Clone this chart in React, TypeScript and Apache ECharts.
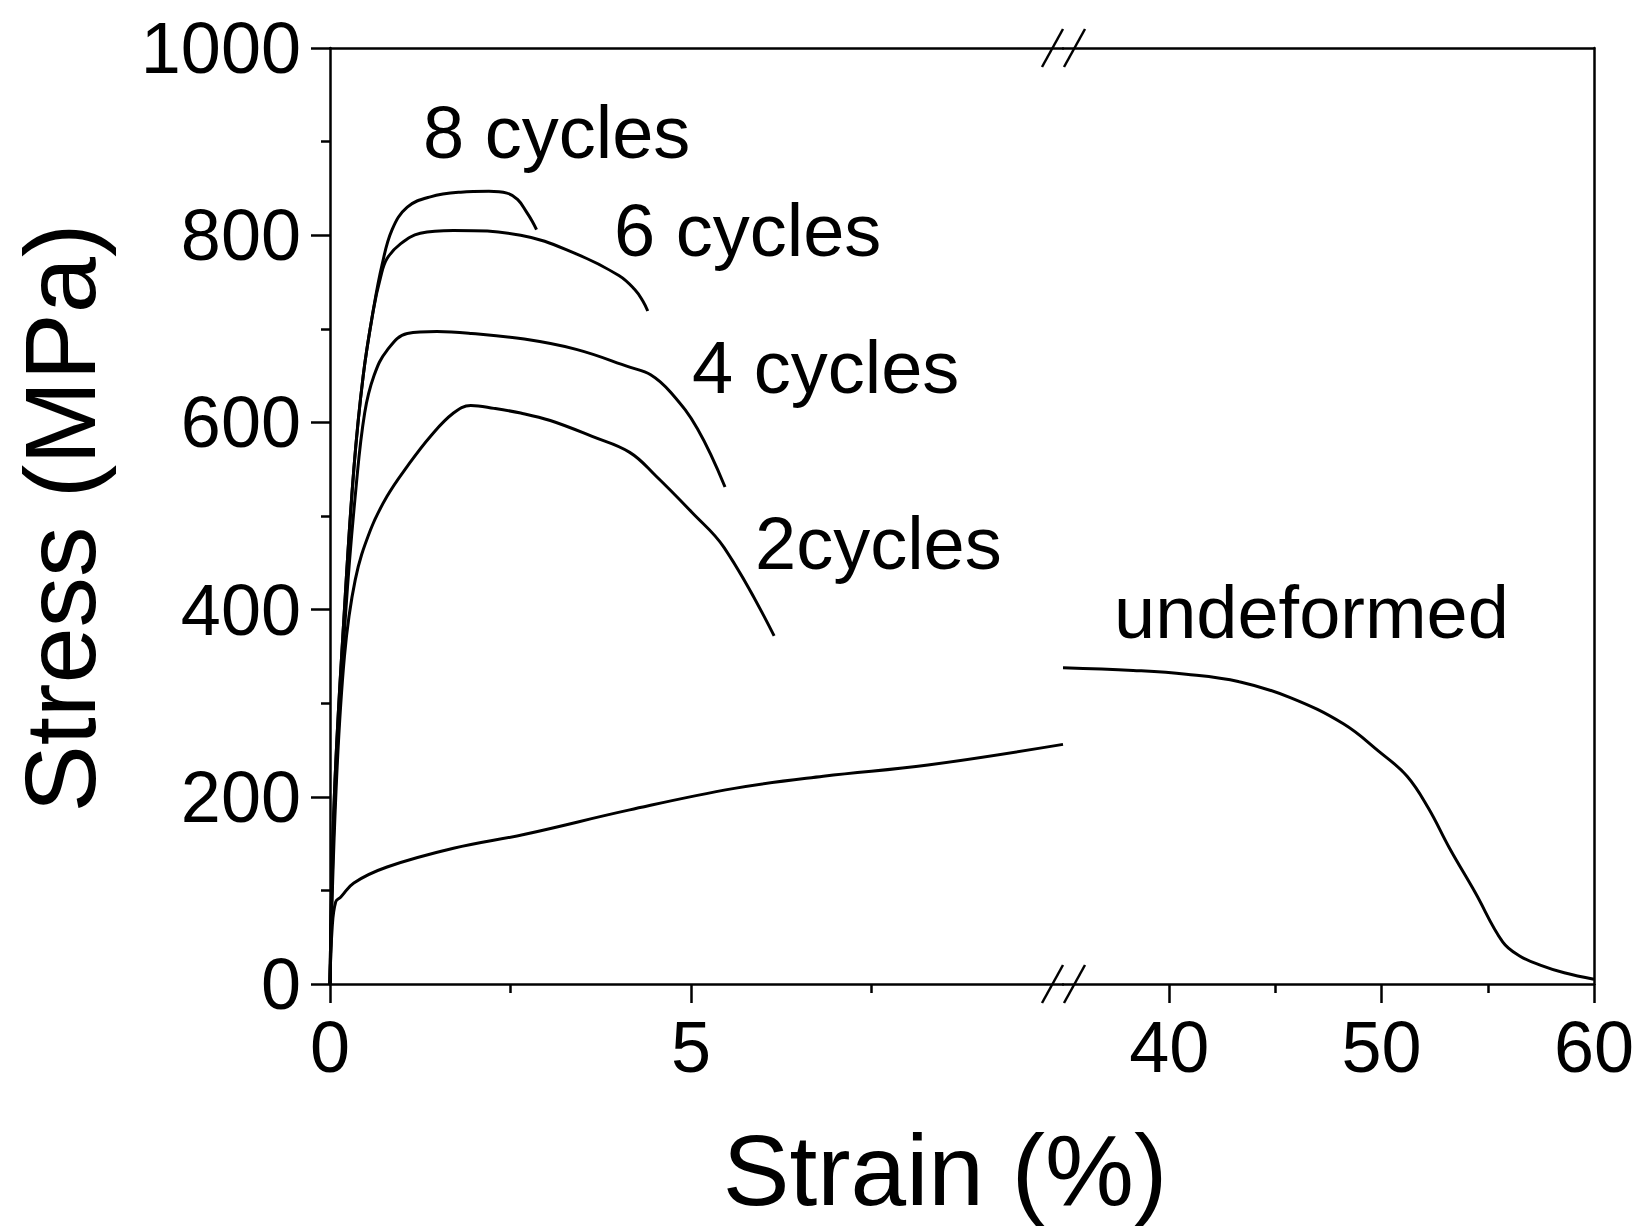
import { useEffect, useRef } from 'react';
import * as echarts from 'echarts';

const FONT = "'Liberation Sans', Arial, Helvetica, sans-serif";

// Tick values
const yTickValues = [0, 200, 400, 600, 800, 1000];
const leftXLabels = [0, 5];
const leftXMinor = [2.5, 7.5];
const rightXLabels = [40, 50, 60];
const rightXMinor = [45, 55];

// Axis ranges (broken x axis)
const leftRange = [0, 10.15];
const rightRange = [35, 60];

// Curves: [strain %, stress MPa]
const cycles8 = [
  [0, 0], [0.06, 200], [0.2, 400], [0.33, 550], [0.46, 650], [0.6, 720], [0.72, 768],
  [0.86, 806], [1.07, 830], [1.39, 841], [1.81, 846], [2.2, 847], [2.45, 845],
  [2.6, 838], [2.72, 825], [2.8, 815], [2.86, 806],
];
const cycles6 = [
  [0, 0], [0.06, 200], [0.2, 400], [0.33, 550], [0.46, 650], [0.6, 720], [0.7, 755],
  [0.79, 775], [0.98, 791], [1.25, 802], [1.71, 805], [2.64, 800], [3.41, 780],
  [4.0, 757], [4.22, 742], [4.33, 730], [4.4, 719],
];
const cycles4 = [
  [0, 0], [0.07, 200], [0.22, 400], [0.36, 530], [0.48, 610], [0.61, 650], [0.79, 677],
  [1.07, 695], [1.48, 697], [1.96, 695], [2.69, 689], [3.41, 678], [4.15, 659],
  [4.44, 651], [4.72, 632], [5.09, 593], [5.47, 531],
];
const cycles2 = [
  [0, 0], [0.08, 200], [0.2, 350], [0.35, 432], [0.56, 485], [0.79, 521], [1.07, 553],
  [1.39, 585], [1.71, 610], [1.95, 618], [2.27, 615], [2.64, 610], [3.05, 602],
  [3.63, 585], [4.15, 568], [4.51, 543], [5.01, 504], [5.46, 466], [6.15, 372],
];
const undeformedLeft = [
  [0, 0], [0.03, 60], [0.08, 88], [0.15, 93], [0.33, 108], [0.79, 125], [1.71, 145],
  [2.7, 160], [4.15, 186], [5.6, 209], [6.83, 222], [8.28, 234], [10.15, 256],
];
const undeformedRight = [
  [35, 338], [38.3, 335], [40.8, 331], [43.3, 323], [45.7, 306], [48.2, 278],
  [49.9, 248], [51.2, 222], [52.2, 188], [53.2, 145], [54.4, 98], [55.7, 45],
  [56.5, 30], [57.5, 20], [58.6, 12], [60, 5],
];

const curveLabels = ['8 cycles', '6 cycles', '4 cycles', '2cycles', 'undeformed'];

const BLACK = '#000';
const AXW = 2.5;

function axisLineOnly(extra: any) {
  return {
    type: 'value',
    axisLine: { show: true, onZero: false, lineStyle: { color: BLACK, width: AXW } },
    axisTick: { show: false },
    axisLabel: { show: false },
    splitLine: { show: false },
    ...extra,
  };
}

function tickAxis(extra: any, values: number[], len: number, labels: boolean) {
  return {
    type: 'value',
    position: 'bottom',
    axisLine: { show: labels, onZero: false, lineStyle: { color: BLACK, width: AXW } },
    axisTick: {
      show: true,
      inside: false,
      length: len,
      customValues: values,
      lineStyle: { color: BLACK, width: AXW },
    },
    axisLabel: labels
      ? {
          show: true,
          customValues: values,
          fontSize: 72,
          fontFamily: FONT,
          color: BLACK,
          margin: 27,
          formatter: (v: number) => String(v),
        }
      : { show: false },
    splitLine: { show: false },
    ...extra,
  };
}

function lineSeries(data: number[][], xi: number, yi: number) {
  return {
    type: 'line',
    data,
    xAxisIndex: xi,
    yAxisIndex: yi,
    showSymbol: false,
    symbol: 'none',
    smooth: 0.4,
    lineStyle: { color: BLACK, width: 3 },
    silent: true,
  };
}

export default function App() {
  const ref = useRef<HTMLDivElement>(null);
  useEffect(() => {
    if (!ref.current) return;
    const chart = echarts.init(ref.current, null, { renderer: 'svg' });
    const GT = 48;
    const GB = 984;
    const X0 = 330;
    const XB = 1063;
    const XR = 1594;
    const slash = (x1: number, y1: number, x2: number, y2: number) => ({
      type: 'line',
      shape: { x1, y1, x2, y2 },
      style: { stroke: BLACK, lineWidth: AXW },
      silent: true,
    });
    const label = (text: string, x: number, y: number) => ({
      type: 'text',
      x,
      y,
      style: {
        text,
        fontSize: 74,
        fontFamily: FONT,
        fill: BLACK,
        textAlign: 'left',
        textVerticalAlign: 'middle',
      },
      silent: true,
    });
    chart.setOption({
      animation: false,
      backgroundColor: '#fff',
      grid: [
        { left: X0, top: GT, width: XB - X0, height: GB - GT },
        { left: XB, top: GT, width: XR - XB, height: GB - GT },
      ],
      xAxis: [
        tickAxis({ gridIndex: 0, min: leftRange[0], max: leftRange[1] }, leftXLabels, 19, true),
        tickAxis({ gridIndex: 0, min: leftRange[0], max: leftRange[1] }, leftXMinor, 9, false),
        axisLineOnly({ gridIndex: 0, position: 'top', min: leftRange[0], max: leftRange[1] }),
        tickAxis({ gridIndex: 1, min: rightRange[0], max: rightRange[1] }, rightXLabels, 19, true),
        tickAxis({ gridIndex: 1, min: rightRange[0], max: rightRange[1] }, rightXMinor, 9, false),
        axisLineOnly({ gridIndex: 1, position: 'top', min: rightRange[0], max: rightRange[1] }),
      ],
      yAxis: [
        {
          type: 'value',
          gridIndex: 0,
          position: 'left',
          min: yTickValues[0],
          max: yTickValues[yTickValues.length - 1],
          interval: 200,
          axisLine: { show: true, onZero: false, lineStyle: { color: BLACK, width: AXW } },
          axisTick: { show: true, inside: false, length: 19, lineStyle: { color: BLACK, width: AXW } },
          minorTick: { show: true, splitNumber: 2, length: 9, lineStyle: { color: BLACK, width: AXW } },
          axisLabel: {
            fontSize: 72,
            fontFamily: FONT,
            color: BLACK,
            margin: 29,
            padding: [0, 0, 14, 0],
            formatter: (v: number) => String(v),
          },
          splitLine: { show: false },
          minorSplitLine: { show: false },
        },
        axisLineOnly({
          gridIndex: 1,
          position: 'right',
          min: yTickValues[0],
          max: yTickValues[yTickValues.length - 1],
        }),
      ],
      series: [
        lineSeries(cycles8, 0, 0),
        lineSeries(cycles6, 0, 0),
        lineSeries(cycles4, 0, 0),
        lineSeries(cycles2, 0, 0),
        lineSeries(undeformedLeft, 0, 0),
        lineSeries(undeformedRight, 3, 1),
      ],
      graphic: [
        slash(1042, GT + 19, 1063, GT - 19),
        slash(1064, GT + 19, 1085, GT - 19),
        slash(1042, GB + 19, 1063, GB - 19),
        slash(1064, GB + 19, 1085, GB - 19),
        label(curveLabels[0], 423, 132),
        label(curveLabels[1], 614, 230),
        label(curveLabels[2], 692, 367),
        label(curveLabels[3], 755, 543),
        label(curveLabels[4], 1114, 612),
        {
          type: 'text',
          x: 945,
          y: 1170,
          style: {
            text: 'Strain (%)',
            fontSize: 100,
            fontFamily: FONT,
            fill: BLACK,
            textAlign: 'center',
            textVerticalAlign: 'middle',
          },
          silent: true,
        },
        {
          type: 'text',
          x: 60,
          y: 518,
          rotation: Math.PI / 2,
          style: {
            text: 'Stress (MPa)',
            fontSize: 101,
            fontFamily: FONT,
            fill: BLACK,
            textAlign: 'center',
            textVerticalAlign: 'middle',
          },
          silent: true,
        },
      ],
    });
    return () => chart.dispose();
  }, []);
  return (
    <div
      ref={ref}
      style={{ position: 'absolute', left: 0, top: 0, width: 1642, height: 1228, background: '#fff' }}
    />
  );
}
